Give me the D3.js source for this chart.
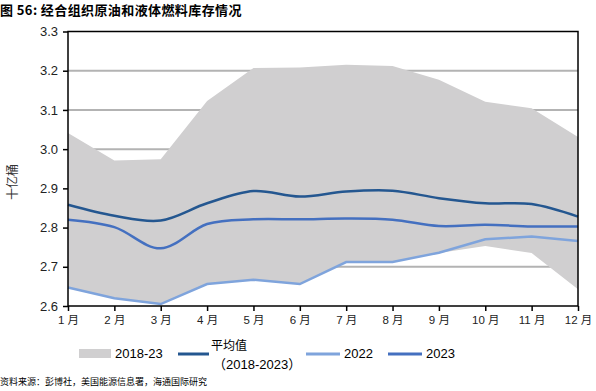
<!DOCTYPE html>
<html>
<head>
<meta charset="utf-8">
<script src="https://cdn.jsdelivr.net/npm/d3@7"></script>
<style>
body { margin: 0; background: #fff; }
text { font-family: "Liberation Sans", "Noto Sans CJK SC", sans-serif; }
</style>
</head>
<body>
<svg id="chart" width="596" height="391"></svg>
<script>
const months = ['1 月','2 月','3 月','4 月','5 月','6 月','7 月','8 月','9 月','10 月','11 月','12 月']
const bandHigh = [3.041, 2.971, 2.974, 3.123, 3.207, 3.208, 3.215, 3.212, 3.177, 3.121, 3.104, 3.031]
const bandLow = [2.647, 2.620, 2.605, 2.656, 2.667, 2.656, 2.712, 2.712, 2.735, 2.753, 2.735, 2.643]
const avg = [2.858, 2.830, 2.818, 2.862, 2.893, 2.879, 2.892, 2.894, 2.875, 2.862, 2.860, 2.828]
const y2022 = [2.647, 2.620, 2.605, 2.656, 2.667, 2.656, 2.712, 2.712, 2.736, 2.770, 2.777, 2.766]
const y2023 = [2.820, 2.801, 2.747, 2.809, 2.821, 2.821, 2.823, 2.820, 2.804, 2.807, 2.803, 2.803]
const yTicks = [2.6, 2.7, 2.8, 2.9, 3.0, 3.1, 3.2, 3.3]

const svg = d3.select('#chart')
const pLeft = 68, pRight = 578, pTop = 31.5, pBottom = 306
const cBand = '#d0cfd0'
const cAvg = '#245790'
const c2022 = '#7fa4dc'
const c2023 = '#4470c0'
const cjk = '"Noto Sans CJK SC", sans-serif'

const x = d3.scalePoint().domain(months).range([pLeft, pRight])
const y = d3.scaleLinear().domain([2.6, 3.3]).range([pBottom, pTop])

// title
svg.append('text')
	.attr('x', 0).attr('y', 15)
	.style('font-family', cjk)
	.style('font-size', '13px')
	.style('font-weight', 'bold')
	.style('letter-spacing', '0.4px')
	.text('图 56:  经合组织原油和液体燃料库存情况')

// gridlines
svg.append('g')
	.selectAll('line')
	.data(yTicks.slice(1, -1))
	.enter()
	.append('line')
		.attr('x1', pLeft).attr('x2', pRight)
		.attr('y1', d => y(d)).attr('y2', d => y(d))
		.style('stroke', '#b3b3b3')
		.style('stroke-width', 2)

// band
const area = d3.area()
	.x((d, i) => x(months[i]))
	.y0((d, i) => y(bandLow[i]))
	.y1(d => y(d))
svg.append('path')
	.attr('d', area(bandHigh))
	.attr('fill', cBand)

const straight = d3.line().x((d, i) => x(months[i])).y(d => y(d))
const smooth = d3.line().x((d, i) => x(months[i])).y(d => y(d)).curve(d3.curveCatmullRom.alpha(0))

svg.append('path').attr('d', straight(y2022)).attr('fill', 'none')
	.style('stroke', c2022).style('stroke-width', 2.5)
svg.append('path').attr('d', smooth(y2023)).attr('fill', 'none')
	.style('stroke', c2023).style('stroke-width', 2.5)
svg.append('path').attr('d', smooth(avg)).attr('fill', 'none')
	.style('stroke', cAvg).style('stroke-width', 2.5)

// frame
svg.append('rect')
	.attr('x', pLeft).attr('y', pTop)
	.attr('width', pRight - pLeft).attr('height', pBottom - pTop)
	.attr('fill', 'none')
	.style('stroke', '#000')
	.style('stroke-width', 1.5)

// axes
const yAxis = d3.axisLeft(y).tickValues(yTicks).tickFormat(d3.format('.1f')).tickSize(5).tickPadding(5)
svg.append('g')
	.attr('transform', `translate(${pLeft}, 0)`)
	.call(yAxis)
	.style('font-size', '13px')

const xAxis = d3.axisBottom(x).tickSize(5).tickPadding(5)
svg.append('g')
	.attr('transform', `translate(0, ${pBottom})`)
	.call(xAxis)
	.style('font-size', '11.5px')

svg.selectAll('.domain').remove()
svg.selectAll('.tick line').style('stroke', '#000').style('stroke-width', 1.5)
svg.selectAll('.tick text').style('fill', '#222').style('font-family', '"Liberation Sans", "Noto Sans CJK SC", sans-serif')

// y label
svg.append('text')
	.attr('transform', 'translate(17, 182) rotate(-90)')
	.attr('text-anchor', 'middle')
	.style('font-family', cjk)
	.style('font-size', '12px')
	.style('fill', '#333')
	.text('十亿桶')

// legend
const lg = svg.append('g')
lg.append('rect').attr('x', 79).attr('y', 349).attr('width', 32).attr('height', 9).attr('fill', cBand)
lg.append('text').attr('x', 115).attr('y', 358).style('font-size', '13px').text('2018-23')
lg.append('line').attr('x1', 178).attr('x2', 209).attr('y1', 354).attr('y2', 354)
	.style('stroke', cAvg).style('stroke-width', 3)
lg.append('text').attr('x', 211).attr('y', 350).style('font-family', cjk).style('font-size', '12px').text('平均值')
lg.append('text').attr('x', 213).attr('y', 369).style('font-size', '13px').text('（2018-2023）')
lg.append('line').attr('x1', 306).attr('x2', 340).attr('y1', 354).attr('y2', 354)
	.style('stroke', c2022).style('stroke-width', 3)
lg.append('text').attr('x', 344).attr('y', 358).style('font-size', '13px').text('2022')
lg.append('line').attr('x1', 388).attr('x2', 422).attr('y1', 354).attr('y2', 354)
	.style('stroke', c2023).style('stroke-width', 3)
lg.append('text').attr('x', 426).attr('y', 358).style('font-size', '13px').text('2023')

// source
svg.append('text')
	.attr('x', 0).attr('y', 385)
	.style('font-family', cjk)
	.style('font-size', '9px')
	.text('资料来源：彭博社，美国能源信息署，海通国际研究')
</script>
</body>
</html>
